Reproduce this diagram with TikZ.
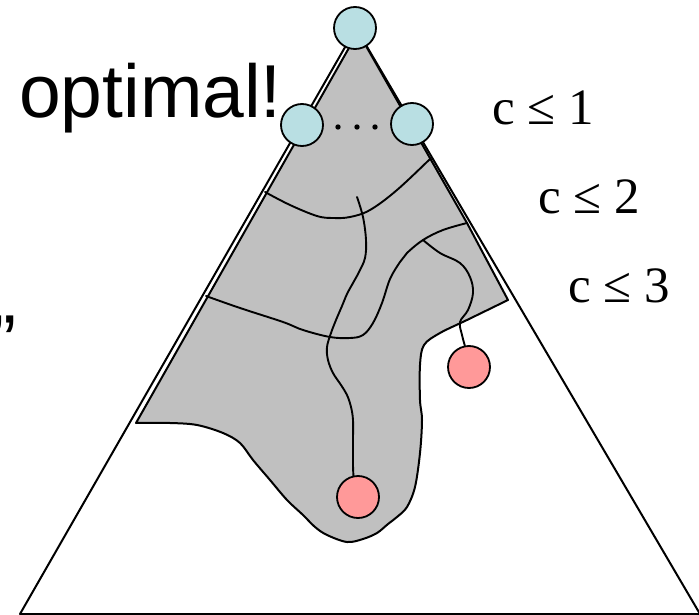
\documentclass[tikz,border=0pt]{standalone}
\usepackage{fontspec}
\setmainfont{Liberation Serif}
\newfontfamily\arialfont{Liberation Sans}
\definecolor{nodeblue}{RGB}{185,223,227}
\definecolor{nodered}{RGB}{255,153,153}
\definecolor{regiongray}{RGB}{192,192,192}
\begin{document}
\begin{tikzpicture}[x=1pt,y=-1pt,
  edge/.style={line width=2pt, line join=round},
  cutline/.style={line width=1.9pt, line join=round, line cap=round},
  bluedot/.style={circle, draw, line width=1.8pt, fill=nodeblue, minimum size=42pt, inner sep=0pt},
  reddot/.style={circle, draw, line width=1.8pt, fill=nodered, minimum size=42pt, inner sep=0pt},
  ell/.style={circle, fill=black, minimum size=5.4pt, inner sep=0pt},
  clabel/.style={inner sep=0pt, anchor=base west, font=\fontsize{51}{55}\selectfont},
  bigtext/.style={inner sep=0pt, anchor=base west, font=\arialfont\fontsize{75}{80}\selectfont}
]
\clip (0,0) rectangle (699,615);
% outer triangle
\coordinate (A) at (356,28);
\coordinate (BL) at (20,614);
\coordinate (BR) at (700,614);
\draw[edge] (BL) -- (A) -- (BR) -- cycle;
% gray region
\draw[edge, fill=regiongray] (358,32) -- (467,223) -- plot[smooth, tension=0.55] coordinates {
  (508,300) (467,320) (440,333) (424,345) (420,365) (420,400) (422,420) (420,453)
  (415,487) (407,507) (397,517) (388,524) (377,533) (363,539) (347,542) (327,535)
  (315,527) (303,515) (287,500) (270,480) (253,460) (240,443) (223,433) (197,425)
  (170,423) (136,423)} -- cycle;
% nodes
\node[bluedot] (top) at (355,28) {};
\node[bluedot] (left) at (302,125) {};
\node[bluedot] (right) at (412,124) {};
\node[ell] (d1) at (338,127) {};
\node[ell] (d2) at (357,127) {};
\node[ell] (d3) at (375,127) {};
\node[reddot] (r1) at (469,367) {};
\node[reddot] (r2) at (358,497) {};
% inner boundaries
\draw[cutline] plot[smooth, tension=0.6] coordinates {(265,192) (290,205) (317,216) (333,218) (350,217) (370,210) (397,190) (431,158)};
\draw[cutline] plot[smooth, tension=0.6] coordinates {(206,296) (240,308) (283,322) (303,330) (330,337) (350,338) (363,335) (373,323) (382,303) (390,279) (400,262) (407,253) (423,240) (443,230) (467,223)};
\coordinate (j1) at (357,197);
\draw[cutline] plot[smooth, tension=0.6] coordinates {(j1) (363,217) (366,240) (365,258) (359,272) (353,283) (347,294) (342,306) (336,320) (331,333) (327,347) (328,360) (333,373) (341,385) (347,395) (351,407) (353,420) (353,440) (353,465) (r2.102)};
\coordinate (j2) at (423,240);
\draw[cutline] plot[smooth, tension=0.6] coordinates {(j2) (440,253) (460,263) (470,277) (473,293) (468,310) (460,322) (462,335) (r1.101)};
% labels
\node[bigtext] (opt) at (19,118) {optimal!};
\node[bigtext] (quote) at (-9,367) {”};
\node[clabel] (c1) at (492,125) {c ≤ 1};
\node[clabel] (c2) at (538,213) {c ≤ 2};
\node[clabel] (c3) at (568,302) {c ≤ 3};
\end{tikzpicture}
\end{document}
